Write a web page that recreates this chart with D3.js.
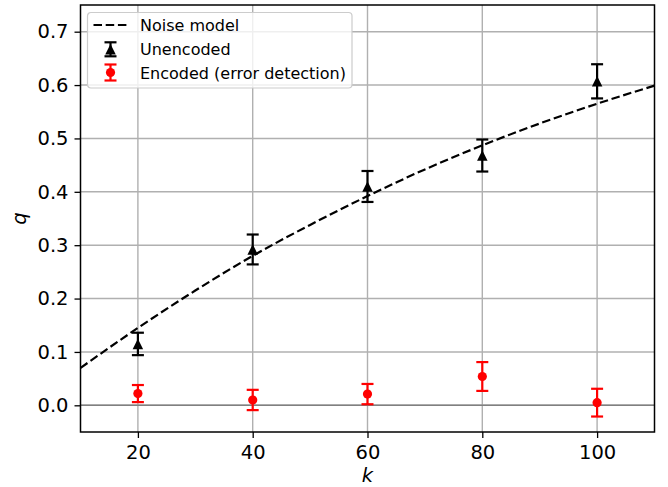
<!DOCTYPE html>
<html>
<head>
<meta charset="utf-8">
<script src="https://cdn.jsdelivr.net/npm/d3@7"></script>
<style>
  body { margin: 0; background: #fff; }
  svg text { font-family: "DejaVu Sans", sans-serif; }
</style>
</head>
<body>
<svg id="canvas" width="668" height="487"></svg>
<script>
// data
const kValues = [20, 40, 60, 80, 100];
const unencoded = [0.115, 0.292, 0.410, 0.468, 0.607];
const unencodedErr = [0.021, 0.028, 0.029, 0.030, 0.032];
const encoded = [0.022, 0.010, 0.021, 0.054, 0.005];
const encodedErr = [0.016, 0.019, 0.019, 0.027, 0.026];

const modelK = [10, 20, 30, 40, 50, 60, 70, 80, 90, 100, 110];
const modelQ = [0.070, 0.145, 0.215, 0.280, 0.338, 0.392, 0.442, 0.487, 0.528, 0.565, 0.599];

const xTicks = [20, 40, 60, 80, 100];
const yTicks = [0, 0.1, 0.2, 0.3, 0.4, 0.5, 0.6, 0.7];

const plotL = 80.5, plotR = 654.5, plotT = 5, plotB = 432;
const tickFont = 19.5, legendFont = 16;

const svg = d3.select("#canvas");

const x = d3.scaleLinear().domain([10, 110]).range([plotL, plotR]);
const y = d3.scaleLinear().domain([-0.05, 0.75]).range([plotB, plotT]);

// matplotlib-like "^" marker: as wide as it is tall
function triPath(s){
    const h = s / 2;
    return `M0,${-h}L${h},${h}L${-h},${h}Z`;
}

// grid
svg.append("g")
    .selectAll("line")
    .data(xTicks)
    .enter().append("line")
    .attr("x1", d => x(d)).attr("x2", d => x(d))
    .attr("y1", plotT).attr("y2", plotB)
    .attr("stroke", "#b0b0b0").attr("stroke-width", 1.4);

svg.append("g")
    .selectAll("line")
    .data(yTicks)
    .enter().append("line")
    .attr("x1", plotL).attr("x2", plotR)
    .attr("y1", d => y(d)).attr("y2", d => y(d))
    .attr("stroke", "#b0b0b0").attr("stroke-width", 1.4);

// zero line
svg.append("line")
    .attr("x1", plotL).attr("x2", plotR)
    .attr("y1", y(0)).attr("y2", y(0))
    .attr("stroke", "#808080").attr("stroke-width", 1.5);

// noise model
const line = d3.line()
    .x((d, i) => x(modelK[i]))
    .y(d => y(d))
    .curve(d3.curveMonotoneX);

svg.append("path")
    .datum(modelQ)
    .attr("d", line)
    .attr("fill", "none")
    .attr("stroke", "#000")
    .attr("stroke-width", 2.2)
    .attr("stroke-dasharray", "8.5,3.7");

// error bars + markers
function errMark(g, cx, cy, y1, y2, color, marker){
    const cap = 6;
    g.append("line").attr("x1", cx).attr("x2", cx).attr("y1", y1).attr("y2", y2)
        .attr("stroke", color).attr("stroke-width", 2.2);
    g.append("line").attr("x1", cx - cap).attr("x2", cx + cap).attr("y1", y1).attr("y2", y1)
        .attr("stroke", color).attr("stroke-width", 2.2);
    g.append("line").attr("x1", cx - cap).attr("x2", cx + cap).attr("y1", y2).attr("y2", y2)
        .attr("stroke", color).attr("stroke-width", 2.2);
    if(marker === "tri"){
        g.append("path")
            .attr("transform", `translate(${cx},${cy})`)
            .attr("d", triPath(10.5))
            .attr("fill", color);
    } else {
        g.append("circle").attr("cx", cx).attr("cy", cy).attr("r", 4.6)
            .attr("fill", color);
    }
}

function drawSeries(vals, errs, color, marker){
    const g = svg.append("g");
    kValues.forEach((k, i) => {
        errMark(g, x(k), y(vals[i]), y(vals[i] + errs[i]), y(vals[i] - errs[i]), color, marker);
    });
}

drawSeries(unencoded, unencodedErr, "#000", "tri");
drawSeries(encoded, encodedErr, "#ff0000", "dot");

// axes
const xAxis = d3.axisBottom(x).tickValues(xTicks).tickSize(6).tickPadding(7).tickFormat(d3.format("d"));
const yAxis = d3.axisLeft(y).tickValues(yTicks).tickSize(6).tickPadding(6).tickFormat(d3.format(".1f"));

const gx = svg.append("g").attr("transform", `translate(0,${plotB})`).call(xAxis);
const gy = svg.append("g").attr("transform", `translate(${plotL},0)`).call(yAxis);
[gx, gy].forEach(g => {
    g.attr("font-size", tickFont).attr("font-family", "DejaVu Sans, sans-serif");
    g.select(".domain").remove();
    g.selectAll("line").attr("stroke", "#000").attr("stroke-width", 1.3);
    g.selectAll("text").attr("fill", "#000");
});

// frame
svg.append("rect")
    .attr("x", plotL).attr("y", plotT)
    .attr("width", plotR - plotL).attr("height", plotB - plotT)
    .attr("fill", "none").attr("stroke", "#000").attr("stroke-width", 1.5);

// labels
svg.append("text")
    .attr("x", (plotL + plotR) / 2).attr("y", 482)
    .attr("text-anchor", "middle")
    .attr("font-size", tickFont).attr("font-style", "italic")
    .text("k");

svg.append("text")
    .attr("transform", `translate(26,${(plotT + plotB) / 2}) rotate(-90)`)
    .attr("text-anchor", "middle")
    .attr("font-size", tickFont).attr("font-style", "italic")
    .text("q");

// legend
const legendNames = ["Noise model", "Unencoded", "Encoded (error detection)"];
const lg = svg.append("g").attr("transform", "translate(87.5,12.5)");
lg.append("rect")
    .attr("width", 264.5).attr("height", 75.5).attr("rx", 3.5)
    .attr("fill", "#fff").attr("fill-opacity", 0.8)
    .attr("stroke", "#cccccc").attr("stroke-width", 1.2);

lg.append("line")
    .attr("x1", 6).attr("x2", 40).attr("y1", 12.5).attr("y2", 12.5)
    .attr("stroke", "#000").attr("stroke-width", 2.2).attr("stroke-dasharray", "8.5,3.7");

errMark(lg, 23, 36.8, 29.8, 43.8, "#000", "tri");
errMark(lg, 23, 60, 52, 68, "#ff0000", "dot");

lg.selectAll("text")
    .data(legendNames)
    .enter().append("text")
    .attr("x", 52.5)
    .attr("y", (d, i) => 12.5 + i * 24)
    .attr("dy", "0.35em")
    .attr("font-size", legendFont)
    .text(d => d);
</script>
</body>
</html>
